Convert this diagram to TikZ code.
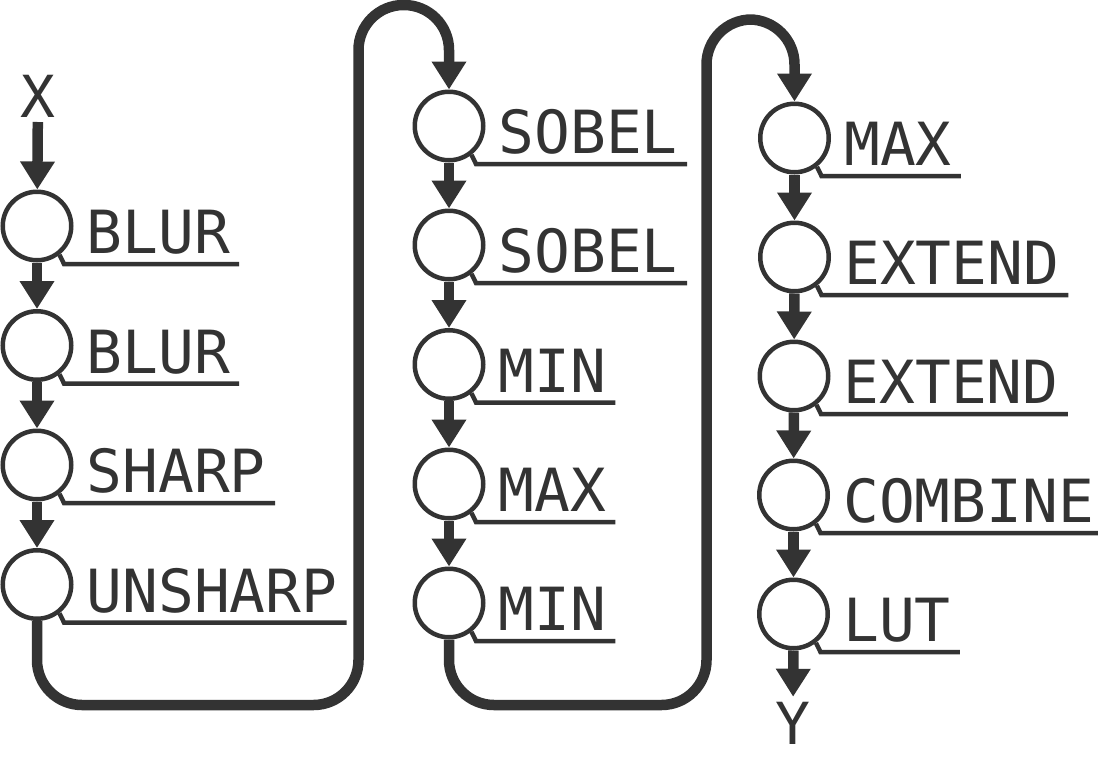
\documentclass[tikz,border=0pt]{standalone}
\usepackage{fontspec}
\setmonofont{DejaVu Sans Mono}
\usetikzlibrary{arrows.meta,calc}
\definecolor{ink}{HTML}{333333}
\begin{document}
\begin{tikzpicture}[x=1pt,y=-1pt,
  op/.style={circle,draw=ink,line width=4.5pt,fill=white,minimum size=68.5pt,inner sep=0pt},
  lab/.style={anchor=base west,inner sep=0pt,text=ink,font=\ttfamily\fontsize{59.5}{62}\selectfont},
  io/.style={anchor=base,inner sep=0pt,outer xsep=0pt,outer ysep=5pt,text depth=0pt,text=ink,font=\ttfamily\fontsize{58}{60}\selectfont},
  flow/.style={draw=ink,line width=10.5pt,-{Triangle[width=33pt,length=28pt]}},
  loopflow/.style={flow,rounded corners=45pt},
  uline/.style={draw=ink,line width=4.5pt}]
\useasboundingbox (0,0) rectangle (1098,766);

% column 1
\node[op] (a1) at (37,226) {};
\node[op] (a2) at (37,345.5) {};
\node[op] (a3) at (37,465) {};
\node[op] (a4) at (37,584.5) {};
% column 2
\node[op] (b1) at (449,126) {};
\node[op] (b2) at (449,245) {};
\node[op] (b3) at (449,364.5) {};
\node[op] (b4) at (449,484) {};
\node[op] (b5) at (449,603) {};
% column 3
\node[op] (c1) at (794.5,138) {};
\node[op] (c2) at (794.5,257) {};
\node[op] (c3) at (794,376) {};
\node[op] (c4) at (793.5,495) {};
\node[op] (c5) at (793.5,614) {};

% labels
\foreach \n/\t in {a1/BLUR,a2/BLUR,a3/SHARP,a4/UNSHARP,
                   b1/SOBEL,b2/SOBEL,b3/MIN,b4/MAX,b5/MIN,
                   c1/MAX,c2/EXTEND,c3/EXTEND,c4/COMBINE,c5/LUT}{
  \node[lab] (l\n) at ($(\n)+(49.5,27.5)$) {\t};
  \coordinate (k\n) at ($(\n)+(27,38)$);
  \draw[uline] (\n.-52) -- (k\n) -- ([xshift=9pt]k\n -| l\n.east);
}

% input / output
\node[io] (X) at (38,117) {X};
\node[io] (Y) at (793,744) {Y};

% straight flows
\draw[flow] (X) -- (a1);
\draw[flow] (a1) -- (a2);
\draw[flow] (a2) -- (a3);
\draw[flow] (a3) -- (a4);
\draw[flow] (b1) -- (b2);
\draw[flow] (b2) -- (b3);
\draw[flow] (b3) -- (b4);
\draw[flow] (b4) -- (b5);
\draw[flow] (c1) -- (c2);
\draw[flow] (c2) -- (c3);
\draw[flow] (c3) -- (c4);
\draw[flow] (c4) -- (c5);
\draw[flow] (c5) -- (Y);

% loops
\coordinate (bot) at (0,705);
\coordinate (r1) at (358.5,705);
\coordinate (t1) at (358.5,5);
\coordinate (top1) at (0,5);
\coordinate (r2) at (706.5,705);
\coordinate (t2) at (706.5,19.5);
\coordinate (top2) at (0,19.5);
\draw[loopflow] (a4.south) -- (a4.south |- bot) -- (r1) -- (t1) -- (b1.north |- top1) -- (b1.north);
\draw[loopflow] (b5.south) -- (b5.south |- bot) -- (r2) -- (t2) -- (c1.north |- top2) -- (c1.north);
\end{tikzpicture}
\end{document}
